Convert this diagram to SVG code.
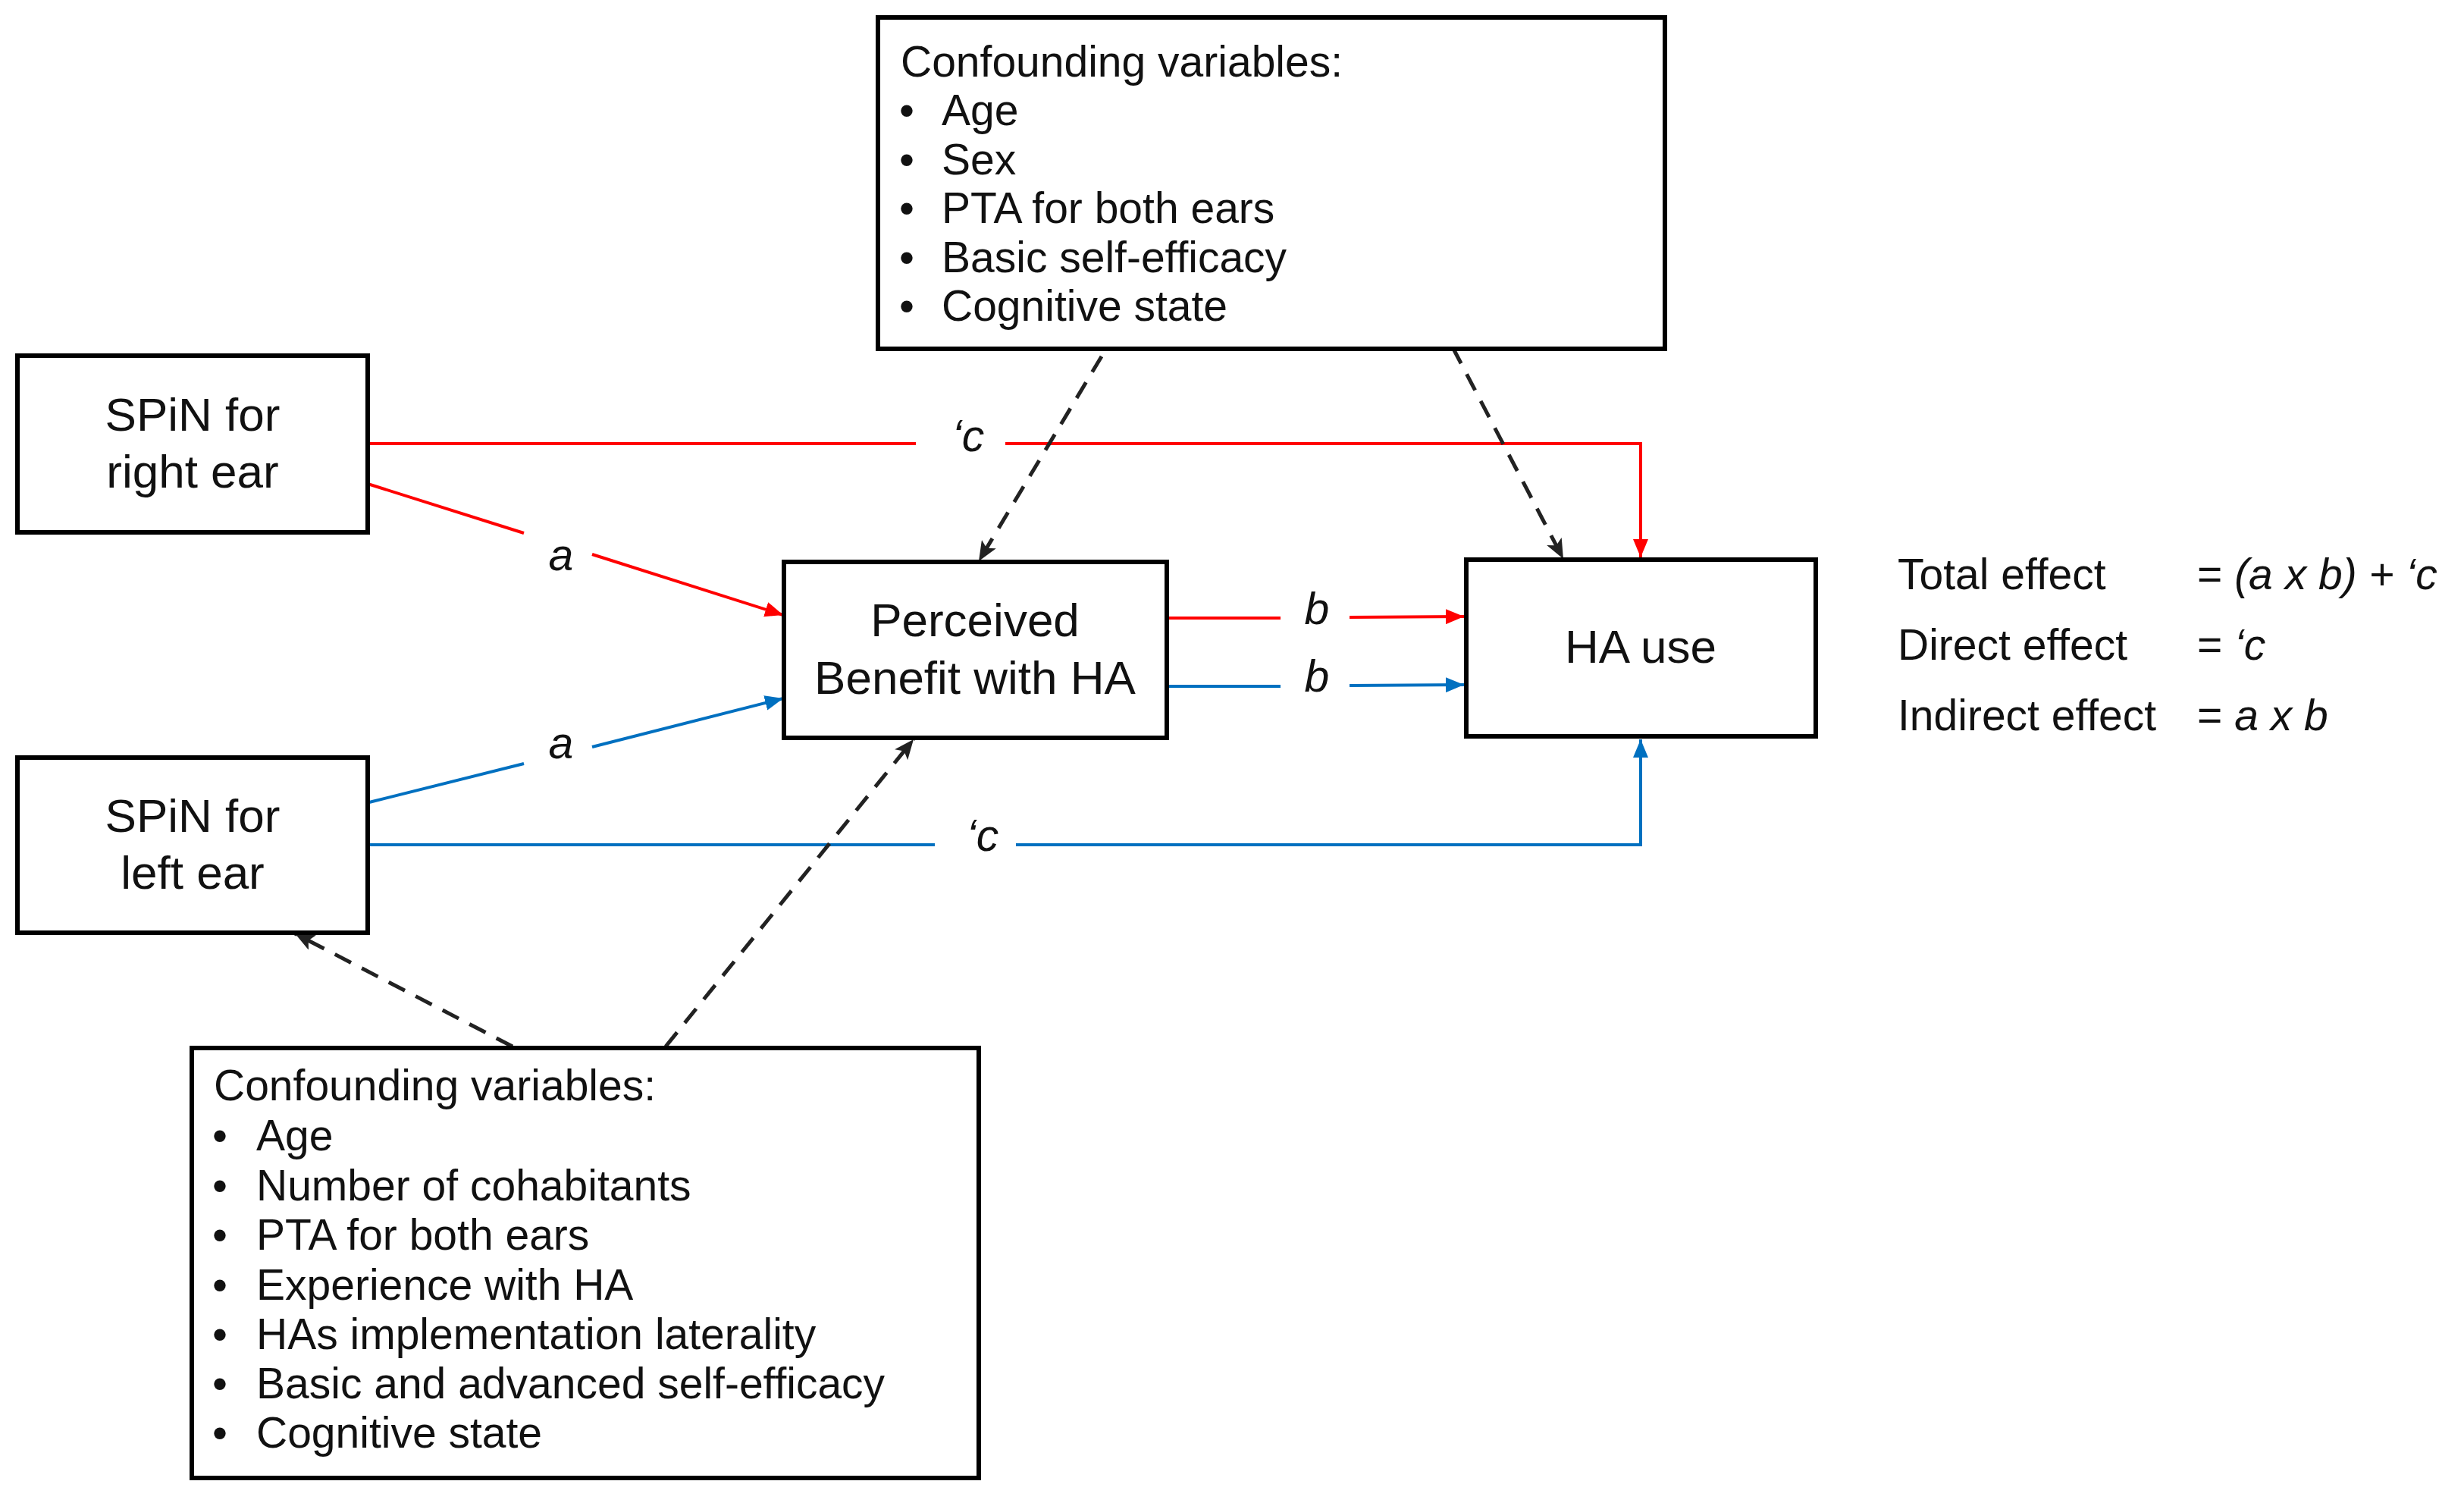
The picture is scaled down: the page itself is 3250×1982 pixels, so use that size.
<svg xmlns="http://www.w3.org/2000/svg" width="3250" height="1982" viewBox="0 0 3250 1982">
<style>
.box{fill:#fff;stroke:#000;stroke-width:6}
.t{font-family:"Liberation Sans",Arial,sans-serif;fill:#111}
.lbl{font-size:62px;text-anchor:middle}
.lst{font-size:57px}
.it{font-family:"Liberation Sans",Arial,sans-serif;font-style:italic;font-size:59px;fill:#111;text-anchor:middle}
.red{fill:none;stroke:#ff0000;stroke-width:4}
.blue{fill:none;stroke:#0070c0;stroke-width:4}
.dash{fill:none;stroke:#222;stroke-width:5;stroke-dasharray:24 16}
</style>
<defs>
<marker id="ar" viewBox="0 0 24 20" refX="24" refY="10" markerWidth="24" markerHeight="20" markerUnits="userSpaceOnUse" orient="auto"><path d="M0,0 L24,10 L0,20 z" fill="#ff0000"/></marker>
<marker id="ab" viewBox="0 0 24 20" refX="24" refY="10" markerWidth="24" markerHeight="20" markerUnits="userSpaceOnUse" orient="auto"><path d="M0,0 L24,10 L0,20 z" fill="#0070c0"/></marker>
<marker id="ak" viewBox="0 0 26 22" refX="26" refY="11" markerWidth="26" markerHeight="22" markerUnits="userSpaceOnUse" orient="auto"><path d="M0,0 L26,11 L0,22 L6,11 z" fill="#222"/></marker>
</defs>
<rect width="3250" height="1982" fill="#fff"/>

<g id="connectors">
<path class="red" d="M485,585 L1208,585"/>
<path class="red" d="M1326,585 L2164,585 L2164,735" marker-end="url(#ar)"/>
<path class="red" d="M485,638 L691,703"/>
<path class="red" d="M781,731 L1033,811" marker-end="url(#ar)"/>
<path class="blue" d="M487,1058 L691,1007"/>
<path class="blue" d="M781,985 L1033,921" marker-end="url(#ab)"/>
<path class="blue" d="M485,1114 L1233,1114"/>
<path class="blue" d="M1340,1114 L2164,1114 L2164,975" marker-end="url(#ab)"/>
<path class="red" d="M1539,815 L1689,815"/>
<path class="red" d="M1780,814 L1931,813" marker-end="url(#ar)"/>
<path class="blue" d="M1539,905 L1689,905"/>
<path class="blue" d="M1780,904 L1931,903" marker-end="url(#ab)"/>
<path class="dash" d="M1453,470 L1291,740" marker-end="url(#ak)"/>
<path class="dash" d="M1916,458 L2062,737" marker-end="url(#ak)"/>
<path class="dash" d="M676,1380 L389,1231" marker-end="url(#ak)"/>
<path class="dash" d="M878,1380 L1205,975" marker-end="url(#ak)"/>
<text class="it" x="740" y="752">a</text>
<text class="it" x="740" y="1000">a</text>
<text class="it" x="1277" y="595">‘c</text>
<text class="it" x="1296" y="1122">‘c</text>
<text class="it" x="1737" y="823">b</text>
<text class="it" x="1737" y="912">b</text>
</g>

<g id="conf-top">
<rect class="box" x="1158" y="23" width="1038" height="437"/>
<text class="t lst" x="1188" y="101">Confounding variables:</text>
<text class="t lst"><tspan x="1186" y="165">•</tspan><tspan x="1242" y="165">Age</tspan></text>
<text class="t lst"><tspan x="1186" y="230">•</tspan><tspan x="1242" y="230">Sex</tspan></text>
<text class="t lst"><tspan x="1186" y="294">•</tspan><tspan x="1242" y="294">PTA for both ears</tspan></text>
<text class="t lst"><tspan x="1186" y="359">•</tspan><tspan x="1242" y="359">Basic self-efficacy</tspan></text>
<text class="t lst"><tspan x="1186" y="423">•</tspan><tspan x="1242" y="423">Cognitive state</tspan></text>
</g>

<g id="spin-right">
<rect class="box" x="23" y="469" width="462" height="233"/>
<text class="t lbl" x="254" y="568">SPiN for</text>
<text class="t lbl" x="254" y="643">right ear</text>
</g>

<g id="spin-left">
<rect class="box" x="23" y="999" width="462" height="231"/>
<text class="t lbl" x="254" y="1097">SPiN for</text>
<text class="t lbl" x="254" y="1172">left ear</text>
</g>

<g id="perceived">
<rect class="box" x="1034" y="741" width="505" height="232"/>
<text class="t lbl" x="1286" y="839">Perceived</text>
<text class="t lbl" x="1286" y="915">Benefit with HA</text>
</g>

<g id="ha-use">
<rect class="box" x="1934" y="738" width="461" height="233"/>
<text class="t lbl" x="2164" y="874">HA use</text>
</g>

<g id="conf-bottom">
<rect class="box" x="253" y="1382" width="1038" height="567"/>
<text class="t lst" x="282" y="1451">Confounding variables:</text>
<text class="t lst"><tspan x="280" y="1517">•</tspan><tspan x="338" y="1517">Age</tspan></text>
<text class="t lst"><tspan x="280" y="1583">•</tspan><tspan x="338" y="1583">Number of cohabitants</tspan></text>
<text class="t lst"><tspan x="280" y="1648">•</tspan><tspan x="338" y="1648">PTA for both ears</tspan></text>
<text class="t lst"><tspan x="280" y="1714">•</tspan><tspan x="338" y="1714">Experience with HA</tspan></text>
<text class="t lst"><tspan x="280" y="1779">•</tspan><tspan x="338" y="1779">HAs implementation laterality</tspan></text>
<text class="t lst"><tspan x="280" y="1844">•</tspan><tspan x="338" y="1844">Basic and advanced self-efficacy</tspan></text>
<text class="t lst"><tspan x="280" y="1909">•</tspan><tspan x="338" y="1909">Cognitive state</tspan></text>
</g>

<g id="effects">
<text class="t lst" x="2503" y="777">Total effect</text>
<text class="t lst" x="2898" y="777">= <tspan font-style="italic">(a x b) + ‘c</tspan></text>
<text class="t lst" x="2503" y="870">Direct effect</text>
<text class="t lst" x="2898" y="870">= <tspan font-style="italic">‘c</tspan></text>
<text class="t lst" x="2503" y="963">Indirect effect</text>
<text class="t lst" x="2898" y="963">= <tspan font-style="italic">a x b</tspan></text>
</g>
</svg>
